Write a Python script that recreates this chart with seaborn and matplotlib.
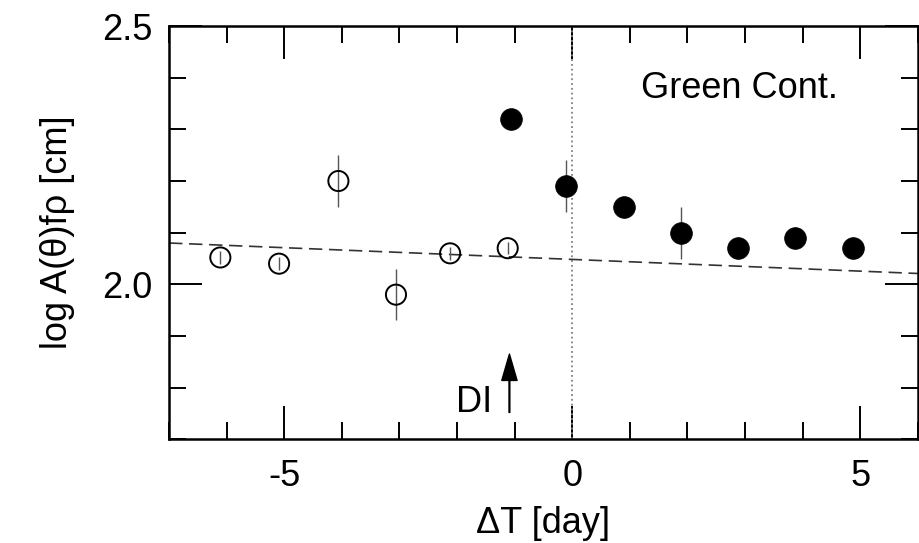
import seaborn as sns
import matplotlib.pyplot as plt
from matplotlib.ticker import MultipleLocator

# 观测数据 (open = before DI, filled = after)
pre_t = [-6.11, -5.09, -4.06, -3.06, -2.12, -1.12]
pre_a = [2.052, 2.04, 2.20, 1.98, 2.06, 2.07]
pre_err = [0.012, 0.012, 0.05, 0.05, 0.012, 0.012]

post_t = [-1.06, -0.10, 0.90, 1.89, 2.88, 3.87, 4.88]
post_a = [2.32, 2.19, 2.15, 2.10, 2.07, 2.09, 2.07]
post_err = [0.01, 0.05, 0.01, 0.05, 0.01, 0.01, 0.01]

# dashed trend
fit_t = [-7, 6]
fit_a = [2.08, 2.021]

di_t = -1.09

sns.set_style('ticks')
plt.rcParams['font.family'] = ['Liberation Sans', 'DejaVu Sans']
plt.rcParams['font.size'] = 26
plt.rcParams['axes.unicode_minus'] = False
plt.rcParams['text.color'] = 'black'
plt.rcParams['axes.labelcolor'] = 'black'

fig, ax = plt.subplots(figsize=(9.19, 5.43), dpi=100)
fig.subplots_adjust(left=0.184, right=0.9986, top=0.952, bottom=0.191)

ax.axvline(0, color='gray', ls=':', lw=1.3, zorder=1)
sns.lineplot(x=fit_t, y=fit_a, ax=ax, color='#333333', lw=1.2, dashes=False, zorder=2)
ax.lines[-1].set_dashes((8, 4))

ax.errorbar(pre_t, pre_a, yerr=pre_err, fmt='none', ecolor='#555555', elinewidth=1, zorder=2)
ax.errorbar(post_t, post_a, yerr=post_err, fmt='none', ecolor='#555555', elinewidth=1, zorder=2)
sns.scatterplot(x=pre_t, y=pre_a, ax=ax, marker='o', s=210, facecolor='none',
                edgecolor='black', linewidth=1.4, zorder=3)
sns.scatterplot(x=post_t, y=post_a, ax=ax, marker='o', s=245, color='black',
                edgecolor='black', linewidth=0.5, zorder=3)

# DI arrow
ax.annotate('', xy=(di_t, 1.865), xytext=(di_t, 1.752),
            arrowprops=dict(facecolor='black', edgecolor='black', width=0.6,
                            headwidth=11, headlength=19, shrink=0))
ax.text(-1.39, 1.753, 'DI', ha='right', va='baseline', fontsize=26, color='black')
ax.text(2.9, 2.38, 'Green Cont.', ha='center', va='center', fontsize=26, color='black')

ax.set_xlim(-7, 6)
ax.set_ylim(1.7, 2.5)
ax.xaxis.set_major_locator(MultipleLocator(5))
ax.xaxis.set_minor_locator(MultipleLocator(1))
ax.yaxis.set_major_locator(MultipleLocator(0.5))
ax.yaxis.set_minor_locator(MultipleLocator(0.1))
ax.tick_params(which='both', direction='in', top=True, right=True, width=1.4, colors='black')
ax.tick_params(which='major', length=24, labelsize=26)
ax.tick_params(axis='x', which='major', pad=14)
ax.tick_params(axis='y', which='major', pad=12)
ax.tick_params(which='minor', length=12)
for sp in ax.spines.values():
    sp.set_linewidth(1.8)
    sp.set_color('black')

ax.set_xlabel('ΔT [day]', fontsize=26, labelpad=9)
ax.set_ylabel('log A(θ)fρ [cm]', fontsize=26)
ax.yaxis.set_label_coords(-0.126, 0.5)

fig.savefig('out.png', dpi=100)
